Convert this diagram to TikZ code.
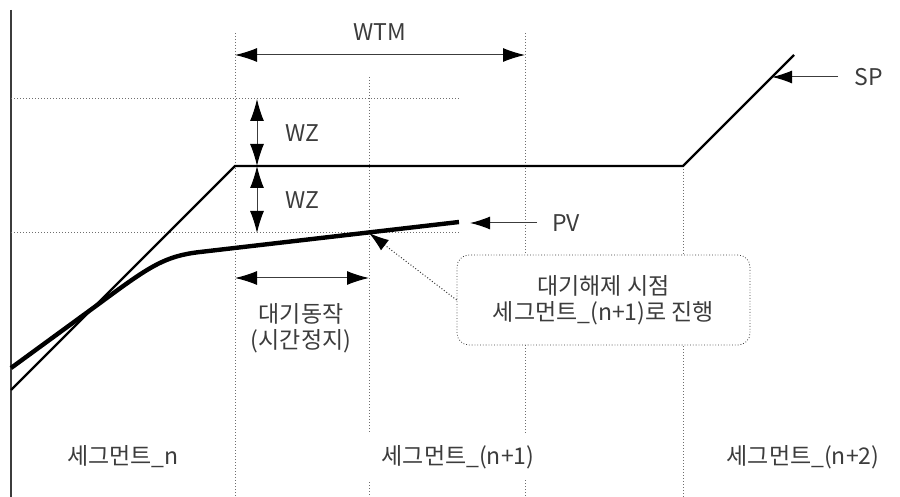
\documentclass[tikz,border=0pt]{standalone}
\usepackage{fontspec}
\setmainfont{Noto Sans CJK KR}
\usetikzlibrary{arrows.meta}

\definecolor{txtgray}{RGB}{60,60,60}
\definecolor{guidegray}{RGB}{110,110,110}

\tikzset{
  guide/.style={densely dotted, guidegray, line width=0.5pt},
  setline/.style={line width=1.1pt, line join=miter},
  pvline/.style={line width=2.2pt, line join=round},
  dimarrow/.style={line width=0.5pt, txtgray,
    {Latex[length=11pt,width=7pt,black]}-{Latex[length=11pt,width=7pt,black]}},
  tiparrow/.style={line width=0.5pt, txtgray, -{Latex[length=10pt,width=6.5pt,black]}},
  lbl/.style={text=txtgray, font=\fontsize{11.5}{13}\selectfont, inner sep=2pt},
}

\begin{document}
\begin{tikzpicture}[x=0.5pt, y=-0.5pt]
    \useasboundingbox (0,0) rectangle (900,497);

    % axis and guide lines
    \coordinate (axtop) at (11,10);
    \coordinate (axbot) at (11,497);
    \draw[line width=0.7pt, txtgray] (axtop) -- (axbot);

    \coordinate (v1t) at (235,33);  \coordinate (v1b) at (235,497);
    \coordinate (v2t) at (369,77);  \coordinate (v2b) at (369,497);
    \coordinate (v3t) at (525,33);  \coordinate (v3b) at (525,497);
    \coordinate (v4t) at (683,166); \coordinate (v4b) at (683,497);
    \coordinate (h1l) at (11,99);   \coordinate (h1r) at (459,99);
    \coordinate (h2l) at (11,233);  \coordinate (h2r) at (459,233);
    \draw[guide] (v1t) -- (v1b);
    \draw[guide] (v2t) -- (v2b);
    \draw[guide] (v3t) -- (v3b);
    \draw[guide] (v4t) -- (v4b);
    \draw[guide] (h1l) -- (h1r);
    \draw[guide] (h2l) -- (h2r);

    % segment labels
    \node[lbl] (segn) at (123,457) {세그먼트\_n};
    \node[lbl, fill=white, minimum width=95pt, minimum height=23pt]
      (segn1) at (458,457) {세그먼트\_(n+1)};
    \node[lbl] (segn2) at (803,457) {세그먼트\_(n+2)};

    % SP
    \coordinate (sp0) at (11,390);
    \coordinate (sp1) at (235,166);
    \coordinate (sp2) at (683,166);
    \coordinate (sp3) at (794,55);
    \draw[setline] (sp0) -- (sp1) -- (sp2) -- (sp3);

    % PV
    \coordinate (pv0) at (11,368);
    \coordinate (pv1) at (100,303);
    \coordinate (pv2) at (200,252);
    \coordinate (pv3) at (459,222);
    \draw[pvline] (pv0) -- (pv1) .. controls (150,266) and (165,256) .. (pv2) -- (pv3);

    % WTM
    \coordinate (wtml) at (235,55);
    \coordinate (wtmr) at (525,55);
    \draw[dimarrow] (wtml) -- (wtmr);
    \node[lbl] (wtm) at (380,32) {WTM};

    % WZ
    \coordinate (wza) at (257,99);
    \coordinate (wzb) at (257,166);
    \coordinate (wzc) at (257,233);
    \draw[dimarrow] (wza) -- (wzb);
    \draw[dimarrow] (wzb) -- (wzc);
    \node[lbl] (wz1) at (302,133) {WZ};
    \node[lbl] (wz2) at (302,200) {WZ};

    % wait
    \coordinate (waitl) at (235,278);
    \coordinate (waitr) at (369,278);
    \draw[dimarrow] (waitl) -- (waitr);
    \node[lbl, align=center] (wait) at (301,328) {대기동작\\(시간정지)};

    % PV, SP pointers
    \node[lbl] (pvlbl) at (566,223) {PV};
    \coordinate (pvtail) at (537,223);
    \coordinate (pvtip) at (470,223);
    \draw[tiparrow] (pvtail) -- (pvtip);

    \node[lbl] (splbl) at (869,77) {SP};
    \coordinate (sptail) at (838,77);
    \coordinate (sptip) at (772,77);
    \draw[tiparrow] (sptail) -- (sptip);

    % release point note
    \node[lbl, draw=txtgray, densely dotted, fill=white, rounded corners=6pt,
          minimum width=146.5pt, minimum height=45pt, align=center]
      (note) at (603.5,300) {대기해제 시점\\세그먼트\_(n+1)로 진행};
    \coordinate (release) at (369,233);
    \draw[guide, txtgray, -{Latex[length=10pt,width=6.5pt,black]}] (note.west) -- (release);
\end{tikzpicture}
\end{document}
